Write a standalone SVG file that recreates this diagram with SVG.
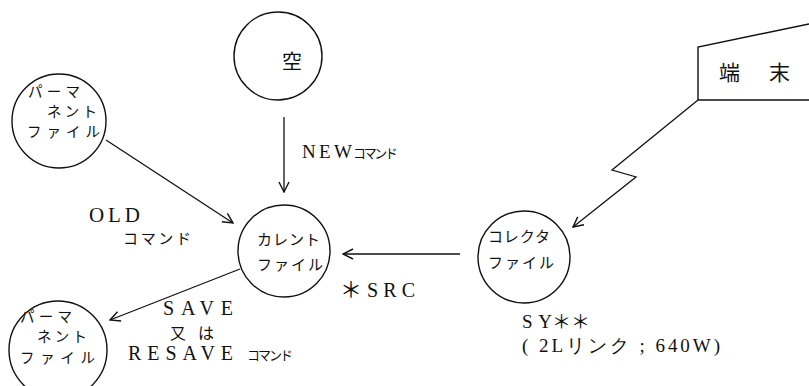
<svg xmlns="http://www.w3.org/2000/svg" width="809" height="386" viewBox="0 0 809 386">
<defs>
<style>
.n{fill:none;stroke:#111;stroke-width:1.4}
.c{fill:none;stroke:#111;stroke-width:1.3}
.jp{font-family:"Noto Sans CJK JP","Noto Sans CJK SC",sans-serif;fill:#111}
.lat{font-family:"Liberation Serif","DejaVu Serif",serif;fill:#111}
</style>
<marker id="ah" viewBox="0 0 12 12" refX="11" refY="6" markerWidth="12" markerHeight="12" markerUnits="userSpaceOnUse" orient="auto">
<path d="M1,1 L11,6 L1,11" fill="none" stroke="#111" stroke-width="1.4"/>
</marker>
</defs>
<rect width="809" height="386" fill="#fff"/>
<g id="empty">
<circle class="n" cx="278" cy="56" r="44"/>
<text class="jp" x="292" y="69" font-size="20" text-anchor="middle">空</text>
</g>
<g id="perm-top">
<circle class="n" cx="59" cy="121" r="47"/>
<text class="jp" x="28" y="97" font-size="14.5" textLength="52" lengthAdjust="spacing">パーマ</text>
<text class="jp" x="47" y="117" font-size="14.5" textLength="50" lengthAdjust="spacing">ネント</text>
<text class="jp" x="27" y="137" font-size="14.5" textLength="73" lengthAdjust="spacing">ファイル</text>
</g>
<g id="current">
<circle class="n" cx="284" cy="251" r="46"/>
<text class="jp" x="257" y="245" font-size="15" textLength="63" lengthAdjust="spacing">カレント</text>
<text class="jp" x="257" y="270" font-size="15" textLength="66" lengthAdjust="spacing">ファイル</text>
</g>
<g id="perm-bottom">
<circle class="n" cx="58" cy="350" r="49"/>
<text class="jp" x="20" y="322" font-size="14.5" textLength="52" lengthAdjust="spacing">パーマ</text>
<text class="jp" x="37" y="342" font-size="14.5" textLength="50" lengthAdjust="spacing">ネント</text>
<text class="jp" x="20" y="363" font-size="14.5" textLength="75" lengthAdjust="spacing">ファイル</text>
</g>
<g id="collector">
<circle class="n" cx="524" cy="257" r="46"/>
<text class="jp" x="488" y="242" font-size="15" textLength="62" lengthAdjust="spacing">コレクタ</text>
<text class="jp" x="488" y="268" font-size="15" textLength="66" lengthAdjust="spacing">ファイル</text>
</g>
<g id="terminal">
<polyline class="n" points="809,24 698,47 698,100 809,100"/>
<text class="jp" x="719" y="80" font-size="21">端</text>
<text class="jp" x="769" y="80" font-size="21">末</text>
</g>
<g id="connectors">
<line class="c" x1="284" y1="117" x2="284" y2="192" marker-end="url(#ah)"/>
<line class="c" x1="106" y1="140" x2="233" y2="223" marker-end="url(#ah)"/>
<line class="c" x1="460" y1="254" x2="343" y2="254" marker-end="url(#ah)"/>
<line class="c" x1="240" y1="269" x2="110" y2="320" marker-end="url(#ah)"/>
<polyline class="c" points="698,100 612,170 636,177 573,227" marker-end="url(#ah)"/>
</g>
<g id="labels">
<text class="lat" font-family="Liberation Serif, serif" x="302" y="158" font-size="19" textLength="50" lengthAdjust="spacing">NEW</text>
<text class="jp" x="353" y="158" font-size="13" textLength="45" lengthAdjust="spacing">コマンド</text>
<text class="lat" font-family="Liberation Serif, serif" x="89" y="222" font-size="21" textLength="51" lengthAdjust="spacing">OLD</text>
<text class="jp" x="123" y="244" font-size="15" textLength="68" lengthAdjust="spacing">コマンド</text>
<text class="jp" x="340" y="297" font-size="22">＊</text>
<text class="lat" font-family="Liberation Serif, serif" x="367" y="297" font-size="20" textLength="48" lengthAdjust="spacing">SRC</text>
<text class="lat" font-family="Liberation Serif, serif" x="163" y="315" font-size="20" textLength="70" lengthAdjust="spacing">SAVE</text>
<text class="jp" x="170" y="339" font-size="16" textLength="44" lengthAdjust="spacing">又は</text>
<text class="lat" font-family="Liberation Serif, serif" x="128" y="360" font-size="20" textLength="105" lengthAdjust="spacing">RESAVE</text>
<text class="jp" x="247" y="360" font-size="13" textLength="46" lengthAdjust="spacing">コマンド</text>
<text class="lat" font-family="Liberation Serif, serif" x="522" y="328" font-size="19" textLength="30" lengthAdjust="spacing">SY</text>
<text class="jp" x="552" y="329" font-size="19" textLength="38" lengthAdjust="spacing">＊＊</text>
<text class="lat" font-family="Liberation Serif, Noto Sans CJK JP, serif" x="522" y="352" font-size="19" textLength="198" lengthAdjust="spacing">( 2Lリンク ; 640W)</text>
</g>
</svg>
